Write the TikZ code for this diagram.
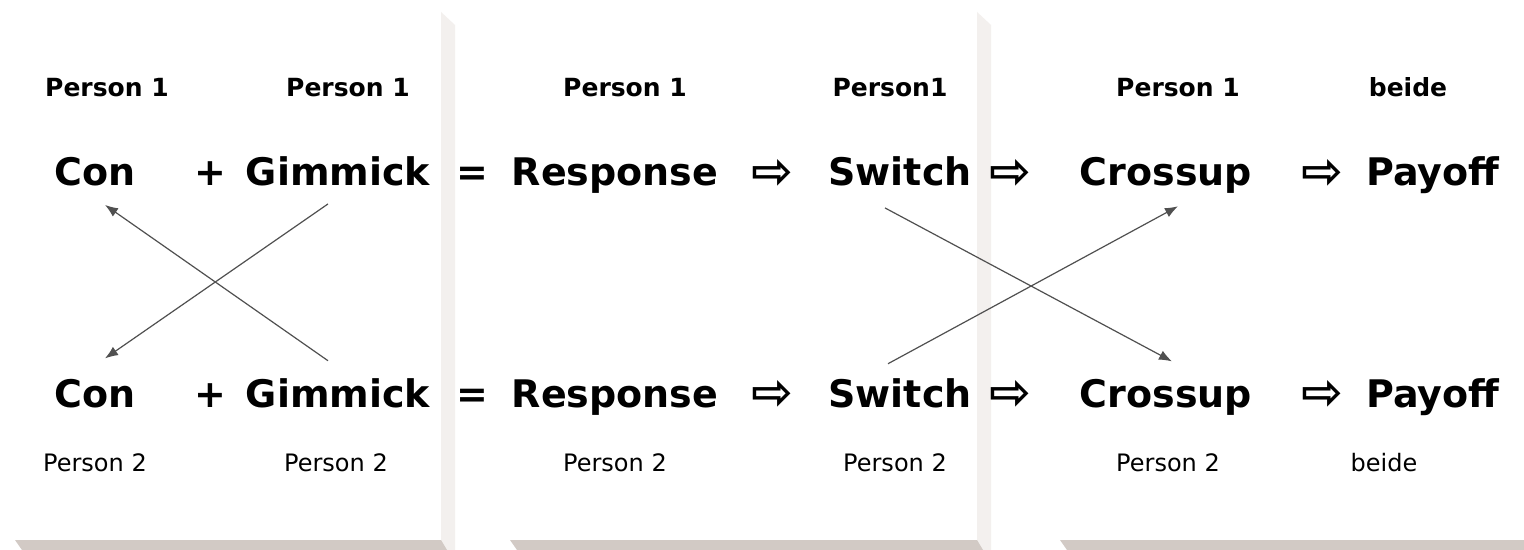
\documentclass[tikz,border=0pt]{standalone}
\usepackage{fontspec}
\setmainfont{DejaVu Sans}
\usetikzlibrary{arrows.meta}
\definecolor{shadeR}{HTML}{F3F0EE}
\definecolor{shadeB}{HTML}{D2CAC5}
\definecolor{linkgray}{HTML}{505050}
\tikzset{
  word/.style={anchor=base, inner sep=0pt, font=\bfseries\fontsize{19}{22}\selectfont},
  sign/.style={inner sep=0pt, font=\bfseries\fontsize{25}{28}\selectfont},
  toplabel/.style={anchor=base, inner sep=0pt, font=\bfseries\fontsize{12.5}{15}\selectfont},
  botlabel/.style={anchor=base, inner sep=0pt, font=\fontsize{12}{14}\selectfont},
  link/.style={linkgray, line width=0.6pt, -{Latex[length=6.5pt,width=5pt]}}
}
\begin{document}
\begin{tikzpicture}[x=0.5pt,y=-0.5pt]
            \useasboundingbox (0,0) rectangle (1524,550);
            \clip (0,0) rectangle (1524,550);
            \fill[white] (0,0) rectangle (1524,550);
            % Blaetter mit Schatten
            \foreach \l/\r in {0/441, 495/977, 1045/1524}{
                \fill[shadeR] (\r,12) -- (\r+14,25) -- (\r+14,550) -- (\r,550) -- cycle;
                \fill[shadeB] (\l+15,540) -- (\r,540) -- (\r+6,550) -- (\l+22,550) -- cycle;
            }
            % Begriffe
            \foreach \x/\w/\n in {95/Con/con, 338/Gimmick/gim, 615/Response/resp,
                                  900/Switch/sw, 1166/Crossup/cross, 1433/Payoff/pay}{
                \node[word] (\n1) at (\x,186) {\w};
                \node[word] (\n2) at (\x,407) {\w};
            }
            % Zeichen
            \node[word] (plus1) at (210,186) {+};
            \node[word] (plus2) at (210,407) {+};
            \node[word] (eq1) at (472,186) {=};
            \node[word] (eq2) at (472,407) {=};
            \foreach \x/\n in {772/pa, 1010/pb, 1322/pc}{
                \node[sign] (\n1) at (\x,174) {⇨};
                \node[sign] (\n2) at (\x,395) {⇨};
            }
            % Personen
            \node[toplabel] (t1) at (107,97) {Person 1};
            \node[toplabel] (t2) at (348,97) {Person 1};
            \node[toplabel] (t3) at (625,97) {Person 1};
            \node[toplabel] (t4) at (890,97) {Person1};
            \node[toplabel] (t5) at (1178,97) {Person 1};
            \node[toplabel] (t6) at (1408,97) {beide};
            \node[botlabel] (b1) at (95,471) {Person 2};
            \node[botlabel] (b2) at (336,471) {Person 2};
            \node[botlabel] (b3) at (615,471) {Person 2};
            \node[botlabel] (b4) at (895,471) {Person 2};
            \node[botlabel] (b5) at (1168,471) {Person 2};
            \node[botlabel] (b6) at (1384,471) {beide};
            % Pfeile
            \draw[link] ([shift={(-10,17)}]gim1.south) -- ([shift={(10,-20)}]con2.north);
            \draw[link] ([shift={(-10,-17)}]gim2.north) -- ([shift={(10,18)}]con1.south);
            \draw[link] ([shift={(-15,21)}]sw1.south) -- ([shift={(6,-17)}]cross2.north);
            \draw[link] ([shift={(-12,-14)}]sw2.north) -- ([shift={(12,12)}]cross1.south);
\end{tikzpicture}
\end{document}
